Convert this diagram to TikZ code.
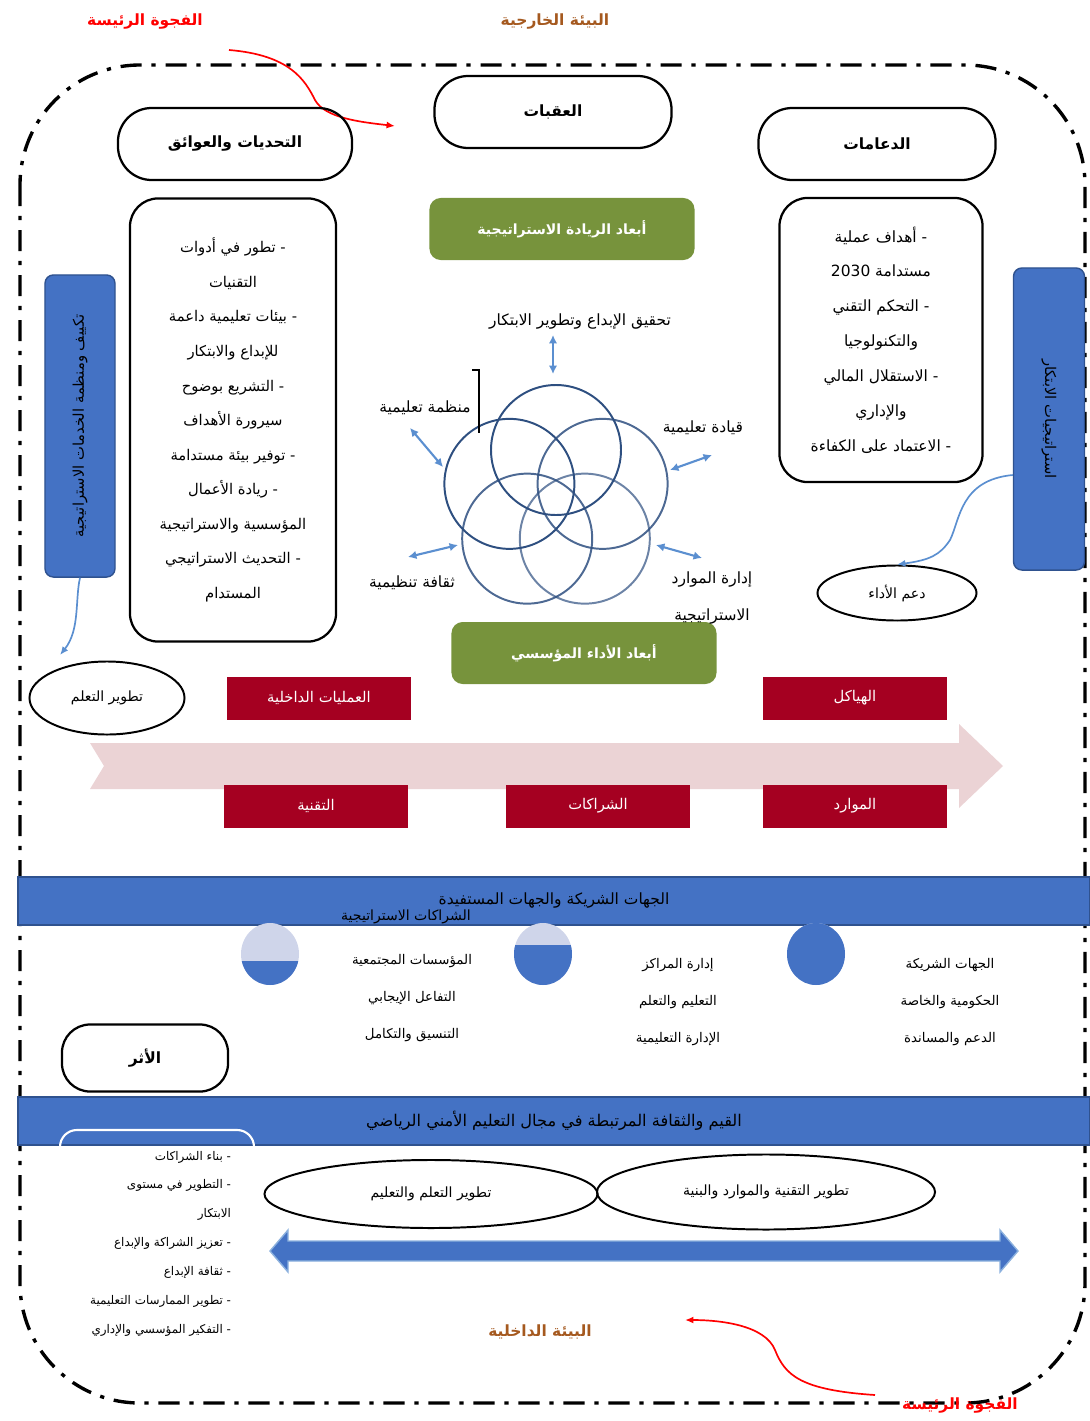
\documentclass[tikz,border=0pt]{standalone}
\usepackage{fontspec}
\newfontfamily\arabicfont[Script=Arabic]{DejaVu Sans}
\TeXXeTstate=1
\usetikzlibrary{arrows.meta}
\usetikzlibrary{shapes.geometric}
\definecolor{bandblue}{HTML}{4472C4}
\definecolor{bandedge}{HTML}{2F528F}
\definecolor{olivebox}{HTML}{77933C}
\definecolor{winebox}{HTML}{A50021}
\definecolor{pinkarrow}{HTML}{EBD3D5}
\definecolor{ringblue}{HTML}{2E4F80}
\definecolor{tipblue}{HTML}{5B8FD0}
\definecolor{paleblue}{HTML}{CFD5EA}
\definecolor{brownlbl}{HTML}{A5591F}
\newcommand{\ar}[1]{{\arabicfont\beginR #1\endR}}

\begin{document}
\begin{tikzpicture}[x=0.025cm,y=-0.025cm,
    pill/.style={draw,line width=1.6pt,rounded corners=24pt,minimum width=5.85cm,
      minimum height=1.8cm,font=\bfseries\fontsize{11}{13}\selectfont},
    listbox/.style={draw,line width=1.6pt,rounded corners=20pt,align=center,
      font=\fontsize{10.5}{24.6}\selectfont},
    bluebar/.style={draw=bandedge,fill=bandblue,line width=1pt,rounded corners=6pt,
      minimum width=1.75cm,minimum height=7.55cm},
    oval/.style={draw,ellipse,line width=1.4pt,inner sep=0pt,font=\fontsize{10}{12}\selectfont},
    greenbox/.style={fill=olivebox,rounded corners=8pt,text=white,minimum width=6.625cm,
      minimum height=1.55cm,font=\bfseries\fontsize{10}{12}\selectfont},
    redbox/.style={fill=winebox,text=white,minimum width=4.575cm,minimum height=1.075cm,
      font=\fontsize{10.5}{12}\selectfont},
    band/.style={draw=bandedge,fill=bandblue,line width=1pt,minimum width=26.8cm,
      minimum height=1.2cm,font=\fontsize{11}{13}\selectfont},
    lbl/.style={font=\fontsize{11}{13}\selectfont,align=center},
    col/.style={font=\fontsize{9.5}{26}\selectfont,align=center},
    dbl/.style={{Latex[length=6pt,width=6pt]}-{Latex[length=6pt,width=6pt]},tipblue,line width=1.5pt},
  ]
  \useasboundingbox (0,0) rectangle (1090,1421);
  % outer frame
  \draw[line width=2.4pt,rounded corners=3cm,
    dash pattern=on 15pt off 7pt on 3pt off 7pt] (20,65) rectangle (1085,1403);
  %% titles
  \node[text=red,font=\bfseries\fontsize{11}{13}\selectfont] (gapT) at (145,22) {\ar{الفجوة الرئيسة}};
  \node[text=brownlbl,font=\bfseries\fontsize{11}{13}\selectfont] (envO) at (555,22) {\ar{البيئة الخارجية}};
  \node[text=brownlbl,font=\bfseries\fontsize{11}{13}\selectfont] (envI) at (540,1332) {\ar{البيئة الداخلية}};
  \node[text=red,font=\bfseries\fontsize{11}{13}\selectfont] (gapB) at (960,1405) {\ar{الفجوة الرئيسة}};
  \coordinate (gT1) at (229,50);
  \coordinate (gT2) at (395,126);
  \coordinate (gB1) at (875,1395);
  \coordinate (gB2) at (685,1320);
  \draw[red,line width=1.2pt,-{Latex[length=6pt,width=5pt]}] (gT1)
    .. controls (290,55) and (305,80) .. (315,100)
    .. controls (325,118) and (360,122) .. (gT2);
  \draw[red,line width=1.2pt,-{Latex[length=6pt,width=5pt]}] (gB1)
    .. controls (800,1390) and (785,1375) .. (775,1350)
    .. controls (765,1325) and (720,1320) .. (gB2);
  %% top row
  \node[pill] (tL) at (235,144) {\ar{التحديات والعوائق}};
  \node[pill,minimum width=5.925cm] (tC) at (553,112) {\ar{العقبات}};
  \node[pill,minimum width=5.925cm] (tR) at (877,144) {\ar{الدعامات}};
  %% lists
  \node[listbox,minimum width=5.15cm,minimum height=11.075cm] (lst) at (233,420)
    {\ar{- تطور في أدوات}\\ \ar{التقنيات}\\ \ar{- بيئات تعليمية داعمة}\\
     \ar{للإبداع والابتكار}\\ \ar{- التشريع بوضوح}\\ \ar{سيرورة الأهداف}\\
     \ar{- توفير بيئة مستدامة}\\ \ar{- ريادة الأعمال}\\ \ar{المؤسسية والاستراتيجية}\\
     \ar{- التحديث الاستراتيجي}\\ \ar{المستدام}};
  \node[listbox,minimum width=5.075cm,minimum height=7.1cm,font=\fontsize{11}{24.8}\selectfont] (rst) at (881,340)
    {\ar{- أهداف عملية}\\ \ar{مستدامة \beginL 2030\endL}\\ \ar{- التحكم التقني}\\
     \ar{والتكنولوجيا}\\ \ar{- الاستقلال المالي}\\ \ar{والإداري}\\
     \ar{- الاعتماد على الكفاءة}};
  %% side bars
  \node[bluebar] (bL) at (80,426) {};
  \node[rotate=90,font=\fontsize{10.5}{12}\selectfont] at (bL) {\ar{تكييف ومنظمة الخدمات الاستراتيجية}};
  \node[bluebar,minimum width=1.775cm] (bR) at (1049,419) {};
  \node[rotate=-90,font=\fontsize{10.5}{12}\selectfont] at (bR) {\ar{استراتيجيات الابتكار}};
  \node[oval,minimum width=3.875cm,minimum height=1.825cm] (eL) at (107,698) {\ar{تطوير التعلم}};
  \node[oval,minimum width=3.975cm,minimum height=1.375cm] (eR) at (897,593) {\ar{دعم الأداء}};
  \draw[tipblue,line width=1.2pt,-{Latex[length=6pt,width=5pt]}] (bL.south)
    .. controls (75,600) and (80,630) .. (60,655);
  \draw[tipblue,line width=1.2pt,-{Latex[length=6pt,width=5pt]}] (bR.west |- 0,475)
    .. controls (960,480) and (960,520) .. (950,540) .. controls (940,555) and (930,560) .. (eR.north);
  %% centre
  \node[greenbox] (gT) at (562,229) {\ar{أبعاد الريادة الاستراتيجية}};
  \node[greenbox] (gB) at (584,653) {\ar{أبعاد الأداء المؤسسي}};
  \foreach \a/\o in {90/1,18/0.85,-54/0.7,-126/0.85,162/1}
    \draw[ringblue,line width=1.4pt,opacity=\o] ({556+49*cos(\a)},{499-49*sin(\a)}) circle[radius=65];
  \node[lbl] (cTop) at (580,322) {\ar{تحقيق الإبداع وتطوير الابتكار}};
  \node[lbl] (cLT) at (425,408) {\ar{منظمة تعليمية}};
  \node[lbl] (cRT) at (703,428) {\ar{قيادة تعليمية}};
  \node[lbl] (cLB) at (412,583) {\ar{ثقافة تنظيمية}};
  \node[lbl,font=\fontsize{11}{26}\selectfont] (cRB) at (712,598) {\ar{إدارة الموارد}\\ \ar{الاستراتيجية}};
  \coordinate (a1) at (553,335); \coordinate (a2) at (553,374);
  \coordinate (b1) at (410,428); \coordinate (b2) at (443,467);
  \coordinate (c1) at (670,470); \coordinate (c2) at (712,455);
  \coordinate (d1) at (408,557); \coordinate (d2) at (458,545);
  \coordinate (e1) at (656,545); \coordinate (e2) at (702,558);
  \foreach \p in {a,b,c,d,e}
    \draw[dbl] (\p1) -- (\p2);
  \draw[line width=1pt] (472,370) -- (479,370) -- (479,433);
  %% flow
  \fill[pinkarrow] (90,743) -- (959,743) -- (959,724) -- (1003,766) -- (959,808)
    -- (959,789) -- (90,789) -- (104,766) -- cycle;
  \node[redbox] (rA) at (319,698) {\ar{العمليات الداخلية}};
  \node[redbox] (rB) at (855,698) {\ar{الهياكل}};
  \node[redbox] (rC) at (316,806) {\ar{التقنية}};
  \node[redbox] (rD) at (598,806) {\ar{الشراكات}};
  \node[redbox] (rE) at (855,806) {\ar{الموارد}};
  %% partners band
  \node[band] (p) at (554,901) {\ar{الجهات الشريكة والجهات المستفيدة}};
  \node[lbl,font=\fontsize{10}{12}\selectfont] (pS) at (406,917) {\ar{الشراكات الاستراتيجية}};
  \foreach \cx/\lv in {270/961,543/945,816/922} {
    \fill[paleblue] (\cx,954) ellipse[x radius=29,y radius=31];
    \begin{scope}
      \clip (\cx,954) ellipse[x radius=29,y radius=31];
      \fill[bandblue] (\cx-30,\lv) rectangle (\cx+30,986);
    \end{scope}
  }
  \node[col] (pL) at (412,998) {\ar{المؤسسات المجتمعية}\\ \ar{التفاعل الإيجابي}\\ \ar{التنسيق والتكامل}};
  \node[col] (pM) at (678,1002) {\ar{إدارة المراكز}\\ \ar{التعليم والتعلم}\\ \ar{الإدارة التعليمية}};
  \node[col] (pR) at (950,1002) {\ar{الجهات الشريكة}\\ \ar{الحكومية والخاصة}\\ \ar{الدعم والمساندة}};
  \node[pill,minimum width=4.15cm,minimum height=1.675cm,rounded corners=20pt] (imp) at (145,1058) {\ar{الأثر}};
  %% values band
  \node[band,font=\fontsize{11.5}{13}\selectfont] (v) at (554,1121) {\ar{القيم والثقافة المرتبطة في مجال التعليم الأمني الرياضي}};
  \draw[white,line width=1.5pt,rounded corners=12pt] (60,1146) -- (60,1130) -- (254,1130) -- (254,1146);
  \node[anchor=north east,align=right,font=\fontsize{8.5}{20.5}\selectfont] (vl) at (236,1146)
    {\ar{- بناء الشراكات}\\ \ar{- التطوير في مستوى}\\ \ar{الابتكار}\\
     \ar{- تعزيز الشراكة والإبداع}\\ \ar{- ثقافة الإبداع}\\
     \ar{- تطوير الممارسات التعليمية}\\ \ar{- التفكير المؤسسي والإداري}};
  \node[oval,minimum width=8.325cm,minimum height=1.7cm] (oL) at (431,1194) {\ar{تطوير التعلم والتعليم}};
  \node[oval,minimum width=8.45cm,minimum height=1.875cm] (oR) at (766,1192) {\ar{تطوير التقنية والموارد والبنية}};
  \filldraw[fill=bandblue,draw=tipblue!70,line width=1pt] (270,1251) -- (288,1230) -- (288,1241)
    -- (1000,1241) -- (1000,1230) -- (1018,1251) -- (1000,1272) -- (1000,1261)
    -- (288,1261) -- (288,1272) -- cycle;
\end{tikzpicture}
\end{document}
